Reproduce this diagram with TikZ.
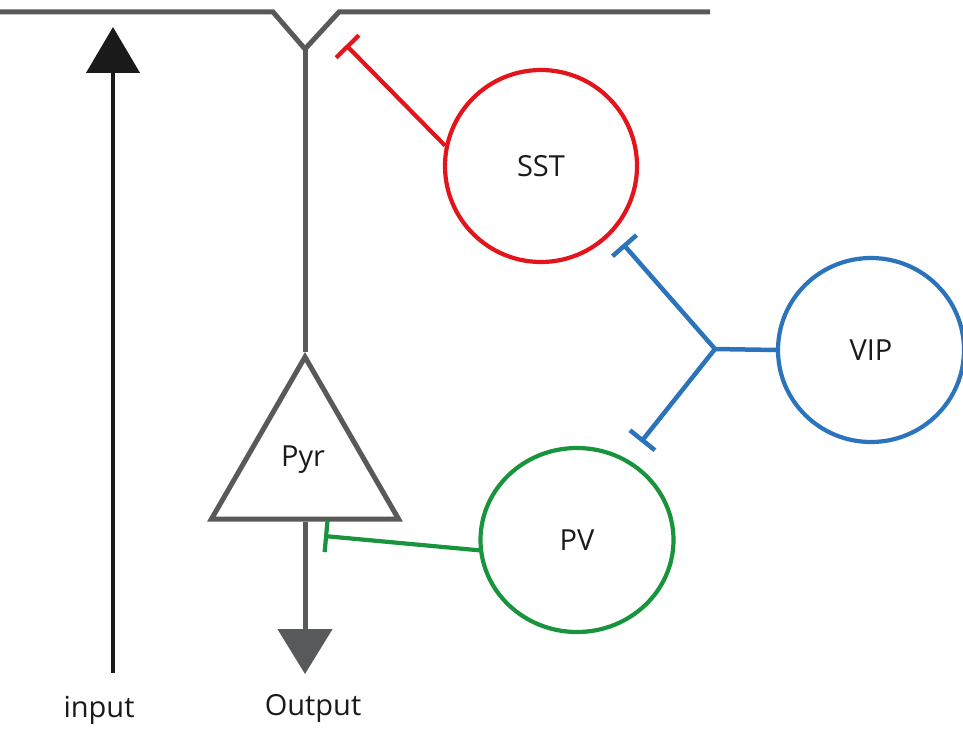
\documentclass[tikz,border=0pt]{standalone}
\usepackage{fontspec}
\setmainfont{Open Sans}
\usetikzlibrary{arrows.meta,shapes.geometric}
\definecolor{cgray}{HTML}{58595B}
\definecolor{cred}{HTML}{E3141B}
\definecolor{cblue}{HTML}{2B73BA}
\definecolor{cgreen}{HTML}{17943C}
\definecolor{cblack}{HTML}{1A1A1A}
\begin{document}
\begin{tikzpicture}[x=1pt,y=-1pt,
  lbl/.style={font=\fontsize{29}{33}\selectfont, text=cblack},
  cell/.style={ellipse, draw, line width=4.2pt, inner sep=0pt, lbl},
  inhib/.style={line width=4.2pt, -{Bar[width=32pt]}},
  neuronline/.style={draw=cgray, line width=5pt}]
\useasboundingbox (0,0) rectangle (963,730);
% nodes
\node[cell, draw=cred, minimum width=192pt, minimum height=192pt] (sst) at (541,166) {SST};
\node[cell, draw=cblue, minimum width=186pt, minimum height=184pt] (vip) at (871,350) {VIP};
\node[cell, draw=cgreen, minimum width=193pt, minimum height=184pt] (pv) at (577,540) {PV};
\node[regular polygon, regular polygon sides=3, draw=cgray, line width=5pt, fill=white,
      minimum size=216pt, inner sep=0pt, lbl] (pyr) at (305,465) {};
\node[lbl] (pyrlbl) at (303,460) {Pyr};
\node[lbl] (outlbl) at (313,708) {Output};
\node[lbl] (inlbl) at (99,710) {input};
% coordinates
\coordinate (tl) at (0,12);
\coordinate (tv1) at (273,12);
\coordinate (v) at (305,49);
\coordinate (tv2) at (339,12);
\coordinate (tr) at (710,12);
\coordinate (outtip) at (305,674);
\coordinate (inbase) at (113,673);
\coordinate (intip) at (113,27);
\coordinate (sstend) at (346,45);
\coordinate (j) at (715,349);
\coordinate (jup) at (623,244);
\coordinate (jdown) at (641,442);
\coordinate (pvend) at (324,536);
% pyramidal neuron
\draw[neuronline, line join=miter] (tl) -- (tv1) -- (v) -- (tv2) -- (tr);
\draw[neuronline] (v) -- (pyr.corner 1);
\draw[neuronline, -{Triangle[length=45pt,width=54pt]}, cgray] (pyr.side 2) -- (outtip);
% input
\draw[cblack, line width=4.5pt, -{Triangle[length=46pt,width=53pt]}] (inbase) -- (intip);
% inhibitory connections
\draw[inhib, cred] (sst.168) -- (sstend);
\draw[cblue, line width=4.5pt] (vip.west) -- (j);
\draw[inhib, cblue, line width=4.5pt] (j) -- (jup);
\draw[inhib, cblue, line width=4.5pt] (j) -- (jdown);
\draw[inhib, cgreen] (pv.186) -- (pvend);
\end{tikzpicture}
\end{document}
